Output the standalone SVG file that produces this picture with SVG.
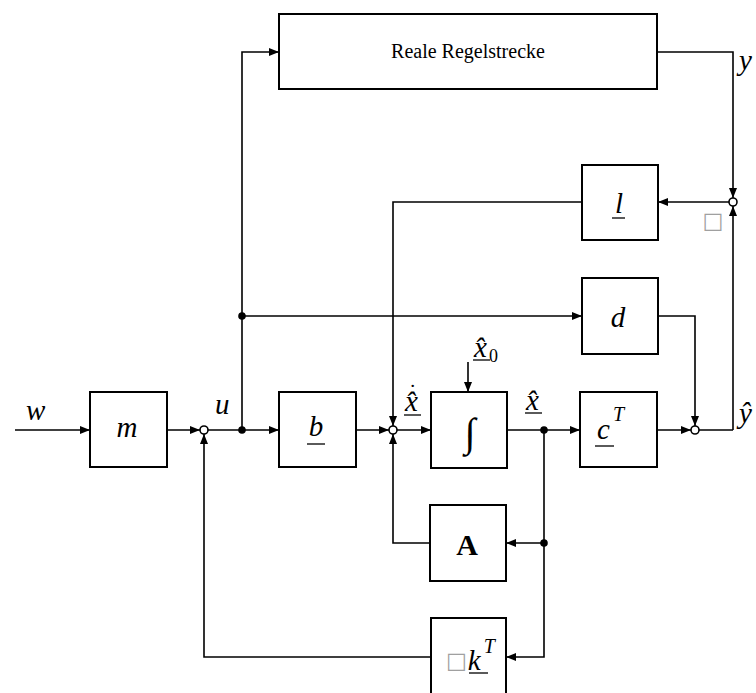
<svg xmlns="http://www.w3.org/2000/svg" width="756" height="693" viewBox="0 0 756 693">
<defs>
<marker id="ah" viewBox="0 0 10 8" refX="10" refY="4" markerWidth="10" markerHeight="8" markerUnits="userSpaceOnUse" orient="auto">
<path d="M0,0 L10,4 L0,8 Z" fill="#000"/>
</marker>
</defs>
<style>
.box{fill:#fff;stroke:#000;stroke-width:2}
.ln{fill:none;stroke:#000;stroke-width:1.6}
.ar{fill:none;stroke:#000;stroke-width:1.6;marker-end:url(#ah)}
.sum{fill:#fff;stroke:#000;stroke-width:1.6}
.dot{fill:#000}
.it{font-family:"Liberation Serif",serif;font-style:italic;font-size:29px;fill:#000}
.rm{font-family:"Liberation Serif",serif;font-size:20px;fill:#000}
.sup{font-size:20px}
.ul{stroke:#000;stroke-width:1.3}
.sq{font-family:"DejaVu Sans",sans-serif;font-size:22px;fill:#a0a0a0}
</style>
<rect width="756" height="693" fill="#fff"/>
<g id="connectors">
<path class="ar" d="M15,430 H90"/>
<path class="ar" d="M167,430 H200"/>
<path class="ln" d="M208,430 H242"/>
<path class="ar" d="M242,430 H279"/>
<path class="ar" d="M242,430 V52 H279"/>
<path class="ar" d="M242,316 H582"/>
<path class="ar" d="M356,430 H389"/>
<path class="ar" d="M397,430 H431"/>
<path class="ar" d="M468,362 V392"/>
<path class="ln" d="M507,430 H544"/>
<path class="ar" d="M544,430 H580"/>
<path class="ar" d="M657,430 H691"/>
<path class="ln" d="M699,430 H733"/>
<path class="ar" d="M733,430 V206"/>
<path class="ar" d="M657,52 H733 V198"/>
<path class="ar" d="M729,202 H658"/>
<path class="ar" d="M582,202 H393 V426"/>
<path class="ar" d="M658,316 H695 V426"/>
<path class="ar" d="M544,430 V543 H506"/>
<path class="ar" d="M430,543 H393 V434"/>
<path class="ar" d="M544,543 V657 H506"/>
<path class="ar" d="M431,657 H204 V434"/>
<circle class="sum" cx="204" cy="430" r="4"/>
<circle class="sum" cx="393" cy="430" r="4"/>
<circle class="sum" cx="695" cy="430" r="4"/>
<circle class="sum" cx="733" cy="202" r="4"/>
<circle class="dot" cx="242" cy="430" r="3.8"/>
<circle class="dot" cx="242" cy="316" r="3.8"/>
<circle class="dot" cx="544" cy="430" r="3.8"/>
<circle class="dot" cx="544" cy="543" r="3.8"/>
</g>
<g id="plant">
<rect class="box" x="279" y="14" width="378" height="75"/>
<text class="rm" x="468" y="58" text-anchor="middle">Reale Regelstrecke</text>
</g>
<g id="m">
<rect class="box" x="90" y="392" width="77" height="75"/>
<text class="it" x="127" y="437" text-anchor="middle" font-size="32">m</text>
</g>
<g id="b">
<rect class="box" x="279" y="392" width="77" height="75"/>
<text class="it" x="316" y="436" text-anchor="middle">b</text>
<line class="ul" x1="307" y1="444" x2="325" y2="444"/>
</g>
<g id="integrator">
<rect class="box" x="431" y="392" width="76" height="76"/>
<text x="470" y="446" text-anchor="middle" font-family="Liberation Serif, serif" font-size="40">∫</text>
</g>
<g id="cT">
<rect class="box" x="580" y="392" width="77" height="75"/>
<text class="it" x="597" y="439">c<tspan class="sup" dx="3" dy="-18">T</tspan></text>
<line class="ul" x1="595" y1="446" x2="614" y2="446"/>
</g>
<g id="d">
<rect class="box" x="582" y="278" width="76" height="76"/>
<text class="it" x="618" y="327" text-anchor="middle">d</text>
</g>
<g id="l">
<rect class="box" x="582" y="165" width="76" height="75"/>
<text class="it" x="619" y="213" text-anchor="middle">l</text>
<line class="ul" x1="612" y1="218" x2="625" y2="218"/>
</g>
<g id="A">
<rect class="box" x="430" y="505" width="76" height="76"/>
<text x="467" y="555" text-anchor="middle" font-family="Liberation Serif, serif" font-weight="bold" font-size="30">A</text>
</g>
<g id="kT">
<rect class="box" x="431" y="618" width="75" height="80"/>
<text class="sq" x="446" y="668">□<tspan class="it" font-size="29" dx="1" dy="2">k</tspan><tspan class="it sup" dx="3" dy="-17">T</tspan></text>
<line class="ul" x1="469" y1="673" x2="488" y2="673"/>
</g>
<g id="labels">
<text class="it" x="26" y="420">w</text>
<text class="it" x="215" y="414">u</text>
<text class="it" x="405" y="411">x̂<tspan font-style="normal" font-size="22" dx="-9" dy="-12">˙</tspan></text>
<line class="ul" x1="404" y1="415" x2="421" y2="415"/>
<text class="it" x="526" y="410">x̂</text>
<line class="ul" x1="525" y1="413" x2="542" y2="413"/>
<text class="it" x="474" y="357">x̂<tspan font-style="normal" font-size="18" dx="2" dy="5">0</tspan></text>
<line class="ul" x1="473" y1="360" x2="490" y2="360"/>
<text class="it" x="739" y="70">y</text>
<text class="it" x="739" y="423">ŷ</text>
<text class="sq" x="713" y="228" text-anchor="middle">□</text>
</g>
</svg>
